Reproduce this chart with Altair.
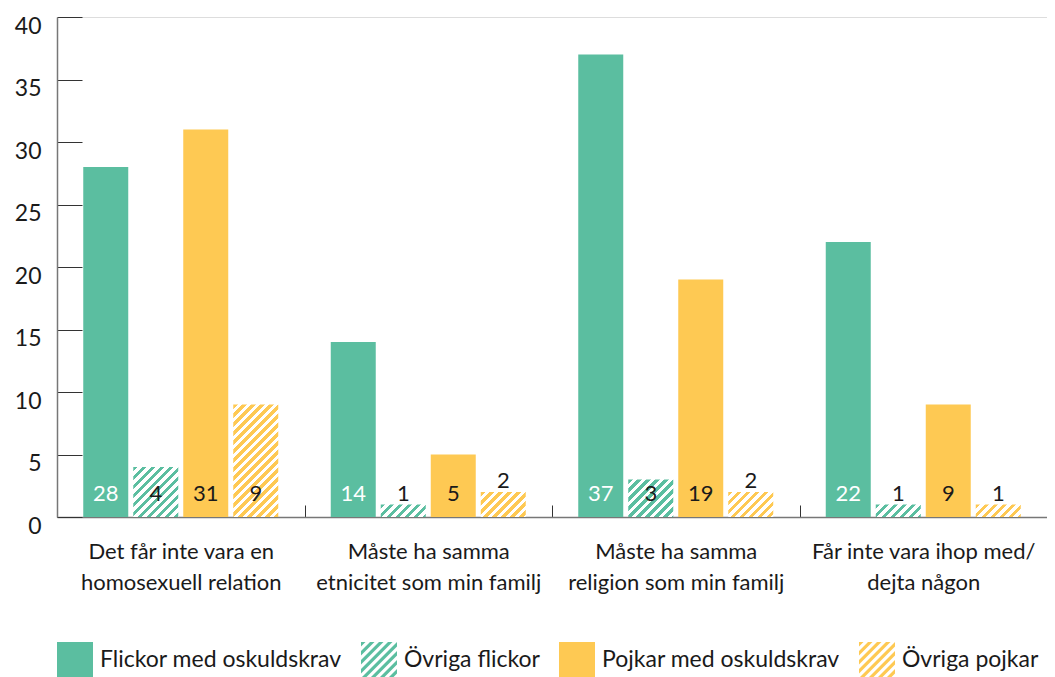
import altair as alt

# ---------------- data ----------------
cat_line1 = ["Det får inte vara en", "Måste ha samma", "Måste ha samma", "Får inte vara ihop med/"]
cat_line2 = ["homosexuell relation", "etnicitet som min familj", "religion som min familj", "dejta någon"]
series = ["Flickor med oskuldskrav", "Övriga flickor", "Pojkar med oskuldskrav", "Övriga pojkar"]
flickor_osk = [28, 14, 37, 22]
ovriga_flickor = [4, 1, 3, 1]
pojkar_osk = [31, 5, 19, 9]
ovriga_pojkar = [9, 2, 2, 1]
y_ticks = [0, 5, 10, 15, 20, 25, 30, 35, 40]

# ---------------- style ----------------
FONT = "Lato"
GREEN = "#5bbea0"
YELLOW = "#fec953"
TEXT = "#1a1a1a"
AXIS = "#777777"
TICK = "#333333"
colors = [GREEN, GREEN, YELLOW, YELLOW]
hatched = [False, True, False, True]

W, H = 990, 500
YMAX = 40
PAD_IN, PAD_OUT = 0.1, 0.525
STEP = W / len(cat_line1)
SUB = STEP / (len(series) - PAD_IN + 2 * PAD_OUT)
BW = SUB * (1 - PAD_IN)
PERIOD = 9.0  # horizontal period of the hatch, px
XTICK, YTICK = 12, 25


def hatch_gradient(color, w, h):
    L = w + h
    stops = []
    i = 0
    while i * PERIOD < L:
        a = i * PERIOD / L
        b = min((i * PERIOD + PERIOD / 2) / L, 1.0)
        c = min((i + 1) * PERIOD / L, 1.0)
        stops += [{"offset": a, "color": color}, {"offset": b, "color": color},
                  {"offset": b, "color": "#ffffff"}, {"offset": c, "color": "#ffffff"}]
        i += 1
    k = L / (w * w + h * h)
    return {"gradient": "linear", "x1": 0, "y1": 0, "x2": k * w, "y2": k * h, "stops": stops}


def clip(poly, f):
    out = []
    n = len(poly)
    for i in range(n):
        p, q = poly[i], poly[(i + 1) % n]
        fp, fq = f(p), f(q)
        if fp >= 0:
            out.append(p)
        if (fp >= 0) != (fq >= 0):
            t = fp / (fp - fq)
            out.append((p[0] + t * (q[0] - p[0]), p[1] + t * (q[1] - p[1])))
    return out


def hatch_path():
    sq = [(-1, -1), (1, -1), (1, 1), (-1, 1)]
    parts = []
    per = 0.5
    c = -2.0
    while c < 2.0:
        a, b = c, c + per / 2
        poly = clip(sq, lambda p: p[0] + p[1] - a)
        poly = clip(poly, lambda p: b - (p[0] + p[1]))
        if len(poly) >= 3:
            parts.append("M" + "L".join(f"{x:.3f},{y:.3f}" for x, y in poly) + "Z")
        c += per
    return "".join(parts)


SQUARE = "M-1,-1L1,-1L1,1L-1,1Z"
HATCH = hatch_path()

cats = [f"{a}|{b}" for a, b in zip(cat_line1, cat_line2)]
vals = [flickor_osk, ovriga_flickor, pojkar_osk, ovriga_pojkar]

rows = []
for i, cat in enumerate(cats):
    for j, s in enumerate(series):
        v = vals[j][i]
        r = {"cat": cat, "series": s, "value": v, "hatched": hatched[j]}
        if hatched[j]:
            r["grad"] = hatch_gradient(colors[j], BW, v * H / YMAX)
        rows.append(r)

data = alt.Data(values=rows)

x_scale = alt.Scale(domain=cats, paddingInner=0, paddingOuter=0)
off_scale = alt.Scale(domain=series, paddingInner=PAD_IN, paddingOuter=PAD_OUT)
y_scale = alt.Scale(domain=[0, YMAX], nice=False, zero=True)
color_scale = alt.Scale(domain=series, range=colors)
shape_scale = alt.Scale(domain=series, range=[SQUARE, HATCH, SQUARE, HATCH])

x_axis = alt.Axis(title=None, ticks=True, tickBand="extent", tickSize={"expr": str(-XTICK)},
                  tickColor=TICK, tickWidth=1, labelAngle=0,
                  labelExpr="split(datum.label, '|')", labelFont=FONT,
                  labelFontSize=22, labelLineHeight=31, labelColor=TEXT, labelLimit=0,
                  labelPadding=24 + XTICK, domainColor=AXIS, domainWidth=1.5)
y_axis = alt.Axis(title=None, values=y_ticks, ticks=True, tickSize={"expr": str(-YTICK)},
                  tickColor=TICK, tickWidth=1, grid=False,
                  labelFont=FONT, labelFontSize=23, labelColor=TEXT,
                  labelPadding=16 + YTICK, labelBaseline="middle", labelOffset=9,
                  domainColor=AXIS, domainWidth=1.5)

x_enc = alt.X("cat:N", scale=x_scale, sort=cats, axis=x_axis)
xo_enc = alt.XOffset("series:N", scale=off_scale, sort=series)

legend = alt.Legend(title=None, orient="none", legendX=0, legendY=625,
                    direction="horizontal", columns=4, symbolSize=1296,
                    symbolStrokeWidth=0, labelFont=FONT, labelFontSize=23,
                    labelColor=TEXT, labelOffset=7, columnPadding=19, padding=0,
                    symbolOpacity=1, labelLimit=0)

base = alt.Chart(data)

legend_pts = base.transform_calculate(mid="datum.value / 2").mark_point(
    filled=True, opacity=1, size=4
).encode(
    x=x_enc, xOffset=xo_enc,
    y=alt.Y("mid:Q", scale=y_scale, axis=y_axis),
    color=alt.Color("series:N", scale=color_scale, sort=series, legend=legend),
    shape=alt.Shape("series:N", scale=shape_scale, sort=series, legend=legend),
)

solid = base.transform_filter("!datum.hatched").mark_bar().encode(
    x=x_enc,
    xOffset=xo_enc,
    y=alt.Y("value:Q", scale=y_scale, axis=y_axis),
    color=alt.Color("series:N", scale=color_scale, sort=series, legend=None),
)

hatch = base.transform_filter("datum.hatched").mark_bar().encode(
    x=x_enc,
    xOffset=xo_enc,
    y=alt.Y("value:Q", scale=y_scale, axis=y_axis),
    fill=alt.Fill("grad:N", scale=None),
)

labels = base.transform_calculate(ly="datum.value <= 2 ? datum.value : 1").mark_text(
    font=FONT, fontSize=22, baseline="alphabetic", dy=-4
).encode(
    x=x_enc,
    xOffset=xo_enc,
    y=alt.Y("ly:Q", scale=y_scale, axis=y_axis),
    text=alt.Text("value:Q"),
    color=alt.condition(alt.datum.series == series[0], alt.value("#ffffff"), alt.value(TEXT)),
)

chart = alt.layer(legend_pts, solid, hatch, labels).properties(
    width=W, height=H,
    autosize=alt.AutoSizeParams(type="none"),
    padding={"left": 49, "top": 9, "right": 0, "bottom": 160},
).configure_view(stroke=None).configure(font=FONT)

chart.save("out.html", embed_options={"renderer": "svg", "actions": False})
